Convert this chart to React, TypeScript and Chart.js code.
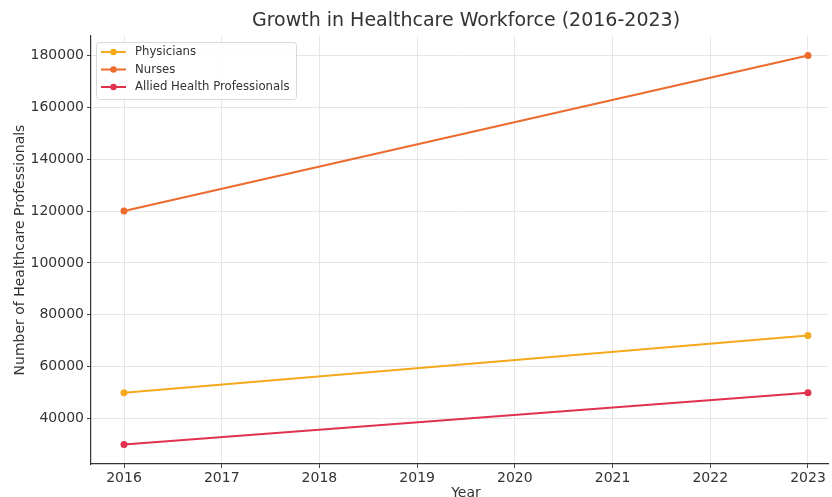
import React, { useEffect, useRef } from "react";
import { Chart, registerables } from "chart.js";

Chart.register(...registerables);

const YEARS = [2016, 2017, 2018, 2019, 2020, 2021, 2022, 2023];
const DATA_YEARS = [2016, 2023];
const PHYSICIANS = [50000, 72000];
const NURSES = [120000, 180000];
const ALLIED = [30000, 50000];
const Y_TICKS = [40000, 60000, 80000, 100000, 120000, 140000, 160000, 180000];
const SERIES_NAMES = ["Physicians", "Nurses", "Allied Health Professionals"];
const COLORS = ["#f5a91c", "#ec6b2d", "#e0324f"];
const TITLE = "Growth in Healthcare Workforce (2016-2023)";
const X_TITLE = "Year";
const Y_TITLE = "Number of Healthcare Professionals";

const FONT = "'DejaVu Sans', sans-serif";
const TEXT = "#333333";

const overlay = {
  id: "overlay",
  afterDraw(chart: any) {
    const ctx = chart.ctx;
    const a = chart.chartArea;
    ctx.save();
    // title
    ctx.fillStyle = TEXT;
    ctx.font = `19px ${FONT}`;
    ctx.textAlign = "center";
    ctx.textBaseline = "middle";
    ctx.fillText(TITLE, 466, 21);
    // x title
    ctx.font = `14px ${FONT}`;
    ctx.fillText(X_TITLE, 466, 493);
    // y title
    ctx.save();
    ctx.translate(20, (a.top + a.bottom) / 2);
    ctx.rotate(-Math.PI / 2);
    ctx.fillText(Y_TITLE, 0, 0);
    ctx.restore();
    // legend
    const lx = 96.5, ly = 42.5, lw = 200, lh = 57;
    ctx.beginPath();
    ctx.roundRect(lx, ly, lw, lh, 3);
    ctx.fillStyle = "rgba(255,255,255,0.85)";
    ctx.fill();
    ctx.strokeStyle = "#d9d9d9";
    ctx.lineWidth = 1;
    ctx.stroke();
    ctx.font = `11.7px ${FONT}`;
    ctx.textAlign = "left";
    SERIES_NAMES.forEach((name, i) => {
      const y = 52 + i * 17.5;
      ctx.strokeStyle = COLORS[i];
      ctx.lineWidth = 2;
      ctx.beginPath();
      ctx.moveTo(101, y);
      ctx.lineTo(126, y);
      ctx.stroke();
      ctx.fillStyle = COLORS[i];
      ctx.beginPath();
      ctx.arc(113.5, y, 3.2, 0, Math.PI * 2);
      ctx.fill();
      ctx.fillStyle = TEXT;
      ctx.fillText(name, 135, y);
    });
    ctx.restore();
  },
};

export default function App() {
  const ref = useRef<HTMLCanvasElement | null>(null);
  useEffect(() => {
    if (!ref.current) return;
    const mk = (vals: number[]) => DATA_YEARS.map((x, i) => ({ x, y: vals[i] }));
    const all = [PHYSICIANS, NURSES, ALLIED];
    const chart = new Chart(ref.current, {
      type: "line",
      data: {
        datasets: all.map((vals, i) => ({
          label: SERIES_NAMES[i],
          data: mk(vals),
          borderColor: COLORS[i],
          backgroundColor: COLORS[i],
          borderWidth: 2,
          pointRadius: 3.5,
          pointBorderWidth: 0,
          pointBackgroundColor: COLORS[i],
          tension: 0,
        })),
      },
      options: {
        responsive: false,
        animation: false,
        layout: { padding: { top: 36, left: 0, right: 0, bottom: 0 } },
        plugins: { legend: { display: false }, title: { display: false }, tooltip: { enabled: false } },
        scales: {
          x: {
            type: "linear",
            min: 2015.662,
            max: 2023.205,
            afterBuildTicks: (s: any) => {
              s.ticks = YEARS.map((v) => ({ value: v }));
            },
            afterFit: (s: any) => {
              s.height = 33;
              s.paddingLeft = 0;
              s.paddingRight = 0;
            },
            grid: { color: "#e6e6e6", lineWidth: 1, tickLength: 4, tickColor: "#444", drawTicks: true },
            border: { color: "#333", width: 1.2 },
            ticks: {
              padding: 2,
              color: TEXT,
              font: { family: FONT, size: 14 },
              callback: (v: any) => String(v),
              maxRotation: 0,
              autoSkip: false,
            },
          },
          y: {
            type: "linear",
            min: 22500,
            max: 187500,
            afterBuildTicks: (s: any) => {
              s.ticks = Y_TICKS.map((v) => ({ value: v }));
            },
            afterFit: (s: any) => {
              s.width = 91;
              s.paddingTop = 0;
              s.paddingBottom = 0;
            },
            grid: { color: "#e6e6e6", lineWidth: 1, tickLength: 4, tickColor: "#444", drawTicks: true },
            border: { color: "#333", width: 1.2 },
            ticks: {
              padding: 3,
              color: TEXT,
              font: { family: FONT, size: 14 },
              callback: (v: any) => String(v),
              autoSkip: false,
            },
          },
        },
      },
      plugins: [overlay],
    } as any);
    return () => chart.destroy();
  }, []);
  return (
    <div style={{ position: "absolute", left: 0, top: 0, width: 832, height: 497, background: "#fff" }}>
      <canvas ref={ref} width={832} height={497} style={{ display: "block" }} />
    </div>
  );
}
